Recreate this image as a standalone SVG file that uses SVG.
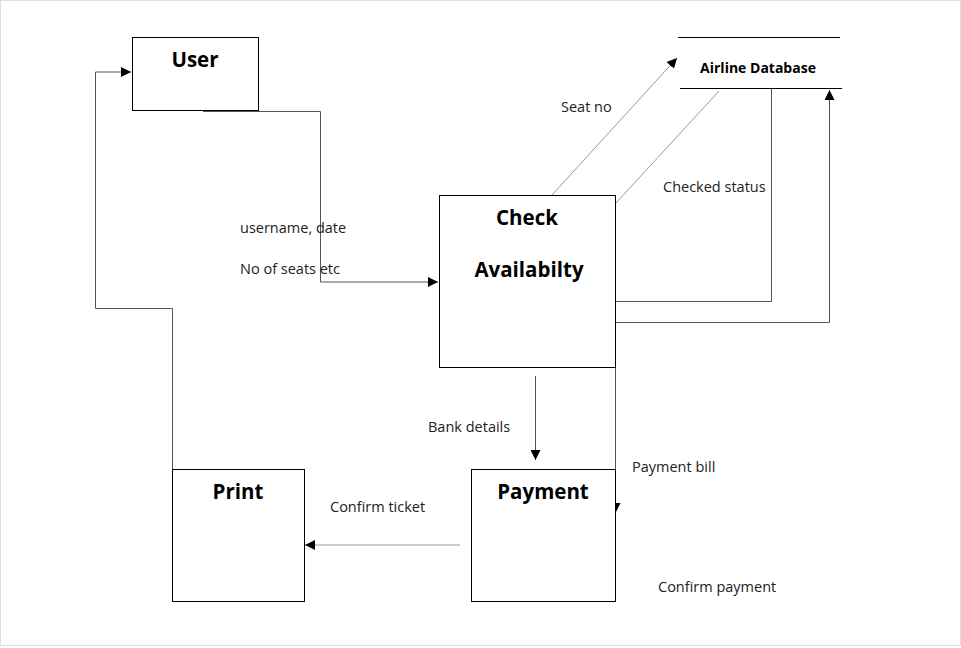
<svg xmlns="http://www.w3.org/2000/svg" width="961" height="648" viewBox="0 0 961 648">
<defs>
<style>
.box{fill:#fff;stroke:#000;stroke-width:1}
.c{fill:none;stroke:#555;stroke-width:1}
.lc{fill:none;stroke:#999;stroke-width:1}
.t{font-family:"Open Sans","Liberation Sans",sans-serif;font-weight:bold;font-size:20.5px;fill:#000;text-anchor:middle}
.l{font-family:"Open Sans","Liberation Sans",sans-serif;font-size:14.5px;fill:#222}
</style>
<marker id="ah" viewBox="0 0 10 10" refX="10" refY="5" markerWidth="10" markerHeight="10" markerUnits="userSpaceOnUse" orient="auto">
<path d="M0,0 L10,5 L0,10 z" fill="#000"/>
</marker>
</defs>
<rect x="0.5" y="0.5" width="960" height="645" fill="#fff" stroke="#ddd"/>
<g id="connectors">
<polyline class="c" points="203,111.5 320.5,111.5 320.5,282 438,282" marker-end="url(#ah)"/>
<polyline class="c" points="172.5,469 172.5,308.5 95.5,308.5 95.5,72 131,72" marker-end="url(#ah)"/>
<line class="lc" x1="552" y1="195" x2="677" y2="58" marker-end="url(#ah)"/>
<line class="lc" x1="616" y1="203" x2="719" y2="91"/>
<polyline class="c" points="771.5,89 771.5,301.5 615,301.5"/>
<polyline class="c" points="615,322.5 829.5,322.5 829.5,90" marker-end="url(#ah)"/>
<line class="c" x1="535.5" y1="376" x2="535.5" y2="460" marker-end="url(#ah)"/>
<polyline class="c" stroke="#000" points="615.5,367 615.5,513" marker-end="url(#ah)"/>
<line class="lc" stroke="#ccc" x1="460" y1="545" x2="305" y2="545" marker-end="url(#ah)"/>
</g>
<g id="user">
<rect class="box" x="132.5" y="37.5" width="126" height="73"/>
<text class="t" x="195" y="67">User</text>
</g>
<g id="check">
<rect class="box" x="439.5" y="195.5" width="176" height="172"/>
<text class="t" x="527" y="225">Check</text>
<text class="t" x="529" y="277">Availabilty</text>
</g>
<g id="db">
<line x1="678" y1="37.5" x2="840" y2="37.5" stroke="#000"/>
<line x1="680" y1="88.5" x2="842" y2="88.5" stroke="#000"/>
<text x="758" y="73" font-family="'Open Sans','Liberation Sans',sans-serif" font-weight="bold" font-size="14px" text-anchor="middle">Airline Database</text>
</g>
<g id="payment">
<rect class="box" x="471.5" y="469.5" width="144" height="132"/>
<text class="t" x="543" y="499">Payment</text>
</g>
<g id="print">
<rect class="box" x="172.5" y="469.5" width="132" height="132"/>
<text class="t" x="238" y="499">Print</text>
</g>
<g id="labels">
<text class="l" x="561" y="112">Seat no</text>
<text class="l" x="663" y="192">Checked status</text>
<text class="l" x="240" y="233">username, date</text>
<text class="l" x="240" y="274">No of seats etc</text>
<text class="l" x="428" y="432">Bank details</text>
<text class="l" x="632" y="472">Payment bill</text>
<text class="l" x="330" y="512">Confirm ticket</text>
<text class="l" x="658" y="592">Confirm payment</text>
</g>
</svg>
